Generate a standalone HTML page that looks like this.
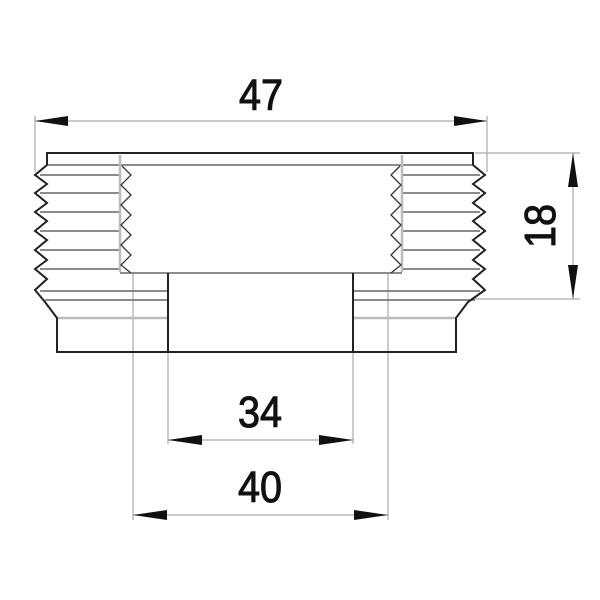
<!DOCTYPE html>
<html><head><style>body{margin:0;background:#fff}svg{display:block}</style></head><body>
<svg width="600" height="600" viewBox="0 0 600 600" xmlns="http://www.w3.org/2000/svg">
<g fill="none" stroke-linejoin="miter">
<g stroke="#aaa" stroke-width="1.2">
<line x1="35" y1="116" x2="35" y2="172"/>
<line x1="487" y1="116" x2="487" y2="172"/>
<line x1="475" y1="153" x2="580" y2="153"/>
<line x1="475" y1="299" x2="580" y2="299"/>
<line x1="133" y1="273" x2="133" y2="520"/>
<line x1="388" y1="273" x2="388" y2="520"/>
<line x1="168" y1="352" x2="168" y2="444"/>
<line x1="353" y1="352" x2="353" y2="444"/>
<line x1="35" y1="121" x2="487" y2="121"/>
<line x1="573" y1="153" x2="573" y2="299"/>
<line x1="168" y1="440" x2="353" y2="440"/>
<line x1="133" y1="515" x2="388" y2="515"/>
</g>
<g stroke="#666" stroke-width="1.5">
<line x1="47" y1="165" x2="473" y2="165"/>
<path d="M40 175H120M40 193H120M40 212H120M40 231H120M40 250H120M40 269H120"/>
<path d="M402 175H480M402 193H480M402 212H480M402 231H480M402 250H480M402 269H480"/>
<path d="M40 291H168M45 300H168M353 291H480M353 300H475"/>
<line x1="120" y1="273" x2="402" y2="273"/>
</g>
<g stroke="#bbb" stroke-width="2.5">
<line x1="58" y1="318" x2="168" y2="318"/>
<line x1="353" y1="318" x2="456" y2="318"/>
<line x1="120" y1="155" x2="120" y2="272"/>
<line x1="402" y1="155" x2="402" y2="272"/>
</g>
<g stroke="#222" stroke-width="2">
<path d="M47 165V153H473V165"/>
<path d="M47 165L35 175L47 184L35 193L47 203L35 212L47 221L35 231L47 240L35 250L47 260L35 269L47 279L35 290L45 302L57 318V352H456V318L468 302L485 290L473 279L485 269L473 260L485 250L473 240L485 231L473 221L485 212L473 203L485 193L473 184L485 175L473 165"/>
<path d="M168 273V352M353 273V352"/>
</g>
<g stroke="#333" stroke-width="1.3">
<path d="M122 166L131 175L121 185L131 195L121 205L131 215L121 225L131 235L121 245L131 255L121 265L131 273"/>
<path d="M400 166L391 175L401 185L391 195L401 205L391 215L401 225L391 235L401 245L391 255L401 265L391 273"/>
</g>
</g>
<g fill="#111">
<polygon points="35,121 68,116 68,126"/>
<polygon points="487,121 454,116 454,126"/>
<polygon points="573,153 568,187 578,187"/>
<polygon points="573,299 568,265 578,265"/>
<polygon points="168,440 202,435 202,445"/>
<polygon points="353,440 319,435 319,445"/>
<polygon points="133,515 167,510 167,520"/>
<polygon points="388,515 354,510 354,520"/>
</g>
<g font-family="Liberation Sans, sans-serif" font-size="44" fill="#111" stroke="#111" stroke-width="1" text-anchor="middle">
<text transform="translate(261,110) scale(0.9,1)">47</text>
<text transform="translate(260,427) scale(0.9,1)">34</text>
<text transform="translate(260,502) scale(0.9,1)">40</text>
<text transform="translate(555,226) rotate(-90) scale(0.9,1)">18</text>
</g>
</svg>
</body></html>
